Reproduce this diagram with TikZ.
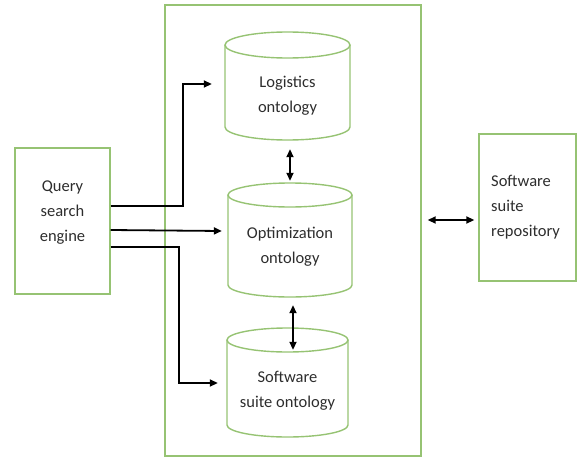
\documentclass[tikz,border=0pt]{standalone}
\usepackage{fontspec}
\setmainfont{Carlito}
\usetikzlibrary{arrows.meta,calc}
\definecolor{boxgreen}{RGB}{150,195,115}
\definecolor{txtgray}{RGB}{45,45,45}
\tikzset{
  gbox/.style={draw=boxgreen,line width=1.4pt},
  lbl/.style={font=\fontsize{16.5}{25}\selectfont,text=txtgray,align=center,inner sep=0pt},
  body/.style={minimum width=#1,inner sep=0pt},
  conn/.style={line width=1.8pt,-{Triangle[length=8pt,width=7pt]}},
  dconn/.style={line width=1.8pt,{Triangle[length=8pt,width=7pt]}-{Triangle[length=8pt,width=7pt]}}
}
\newcommand{\cyl}[5]{% L R T B ry
  \draw[gbox] (#1,#3+#5) -- (#1,#4-#5) arc[start angle=180,end angle=0,x radius={(#2-#1)/2},y radius=#5] -- (#2,#3+#5);
  \draw[gbox] ({(#1+#2)/2},#3+#5) ellipse[x radius={(#2-#1)/2},y radius=#5];
}
\begin{document}
\begin{tikzpicture}[x=1pt,y=-1pt]
\useasboundingbox (0,0) rectangle (586,463);
% outer frame
\node[gbox,minimum width=256pt,minimum height=451pt,inner sep=0pt] (frame) at (293,230.5) {};
% query box
\node[gbox,minimum width=95pt,minimum height=146pt,inner sep=0pt] (query) at (62.5,221) {};
\node[lbl] (qtext) at (62.5,213) {Query\\search\\engine};
% repository box
\node[gbox,minimum width=97pt,minimum height=147pt,inner sep=0pt] (repo) at (527.5,207.5) {};
\node[lbl,align=left,anchor=west] (rtext) at (491,207) {Software\\suite\\repository};
% cylinders
\cyl{225}{350}{32}{140}{13}
\cyl{228}{352}{183}{297}{12}
\cyl{227}{348}{328}{437}{12}
\node[minimum width=125pt,minimum height=108pt,inner sep=0pt] (log) at (287.5,86) {};
\node[minimum width=124pt,minimum height=114pt,inner sep=0pt] (opt) at (290,240) {};
\node[minimum width=121pt,minimum height=109pt,inner sep=0pt] (soft) at (287.5,382.5) {};
\node[lbl] (logt) at (287.5,96) {Logistics\\ontology};
\node[lbl] (optt) at (290,247) {Optimization\\ontology};
\node[lbl] (softt) at (287.5,391) {Software\\suite ontology};
% connectors from query
\draw[conn] ($(query.east)+(0,-15)$) -- ++(72,0) |- ($(log.west)+(-13,-2)$);
\draw[conn] ($(query.east)+(0,9)$) -- ($(opt.west)+(-6,-9)$);
\draw[conn] ($(query.east)+(0,26)$) -- ++(68,0) |- ($(soft.west)+(-9,0.5)$);
% vertical double arrows
\draw[dconn] ($(log.south)+(2.5,9)$) -- ($(opt.north)+(0,-2)$);
\draw[dconn] ($(opt.south)+(3,8)$) -- ($(soft.north)+(5.5,22)$);
% frame to repository
\draw[dconn] ($(frame.east)+(6,-10.5)$) -- ($(repo.west)+(-4,12.5)$);
\end{tikzpicture}
\end{document}
